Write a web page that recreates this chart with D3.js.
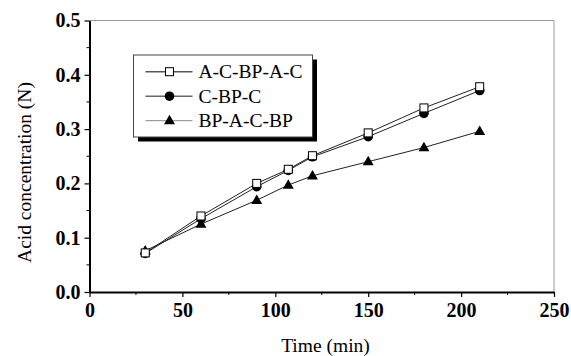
<!DOCTYPE html>
<html>
<head>
<meta charset="utf-8">
<script src="https://cdn.jsdelivr.net/npm/d3@7"></script>
<style>
  body { margin: 0; background: #fff; }
  svg { display: block; font-family: "Liberation Serif", "DejaVu Serif", serif; }
</style>
</head>
<body>
<div id="chart"></div>
<script>
// data
var times = [30, 60, 90, 107, 120, 150, 180, 210];
var acbpac = [0.072, 0.140, 0.200, 0.226, 0.251, 0.293, 0.339, 0.378];
var cbpc   = [0.071, 0.135, 0.194, 0.224, 0.249, 0.286, 0.329, 0.371];
var bpacbp = [0.076, 0.125, 0.169, 0.197, 0.214, 0.240, 0.266, 0.296];
var seriesNames = ["A-C-BP-A-C", "C-BP-C", "BP-A-C-BP"];
var xTicks = [0, 50, 100, 150, 200, 250];
var yTicks = [0.0, 0.1, 0.2, 0.3, 0.4, 0.5];

var W = 571, H = 356;
var margin = {top: 20.5, right: 17, bottom: 64, left: 89.5};
var width = W - margin.left - margin.right,
    height = H - margin.top - margin.bottom;

var svg = d3.select("#chart").append("svg")
    .attr("width", W).attr("height", H)
  .append("g")
    .attr("transform", "translate(" + margin.left + "," + margin.top + ")");

var x = d3.scaleLinear().domain([0, 250]).range([0, width]);
var y = d3.scaleLinear().domain([0, 0.5]).range([height, 0]);

// frame: top and right in gray
svg.append("line").attr("x1", 0).attr("x2", width).attr("y1", 0).attr("y2", 0)
    .attr("stroke", "#999").attr("stroke-width", 1);
svg.append("line").attr("x1", width).attr("x2", width).attr("y1", 0).attr("y2", height)
    .attr("stroke", "#999").attr("stroke-width", 1);

// minor ticks
var xMinor = d3.range(25, 250, 50);
var yMinor = d3.range(0.05, 0.5, 0.1);
svg.selectAll(".xminor").data(xMinor).enter().append("line")
    .attr("x1", function(d) { return x(d); }).attr("x2", function(d) { return x(d); })
    .attr("y1", height).attr("y2", height + 3)
    .attr("stroke", "#000").attr("stroke-width", 1);
svg.selectAll(".yminor").data(yMinor).enter().append("line")
    .attr("y1", function(d) { return y(d); }).attr("y2", function(d) { return y(d); })
    .attr("x1", 0).attr("x2", -3)
    .attr("stroke", "#000").attr("stroke-width", 1);

// axes
var xAxis = svg.append("g")
    .attr("transform", "translate(0," + height + ")")
    .call(d3.axisBottom(x).tickValues(xTicks).tickSize(5).tickSizeOuter(0).tickPadding(6));
var yAxis = svg.append("g")
    .call(d3.axisLeft(y).tickValues(yTicks).tickSize(5).tickSizeOuter(0).tickPadding(4)
      .tickFormat(d3.format(".1f")));

[xAxis, yAxis].forEach(function(a) {
  a.select(".domain").attr("stroke", "#000").attr("stroke-width", 2);
  a.selectAll(".tick line").attr("stroke", "#000").attr("stroke-width", 1.2);
  a.selectAll(".tick text")
    .style("font-family", "Liberation Serif, serif")
    .style("font-size", "20px").style("font-weight", "bold").attr("fill", "#000");
});

// axis titles
svg.append("text")
    .attr("x", x(127)).attr("y", height + 60)
    .attr("text-anchor", "middle")
    .style("font-size", "19.5px")
    .text("Time (min)");
svg.append("text")
    .attr("transform", "translate(" + (-58.5) + "," + 152 + ") rotate(-90)")
    .attr("text-anchor", "middle")
    .style("font-size", "19.5px")
    .text("Acid concentration (N)");

// series
var series = [
  {name: seriesNames[0], values: acbpac, marker: "square"},
  {name: seriesNames[1], values: cbpc, marker: "circle"},
  {name: seriesNames[2], values: bpacbp, marker: "triangle"}
];

var line = d3.line()
    .x(function(d) { return x(d[0]); })
    .y(function(d) { return y(d[1]); });

function drawMarker(g, type, cx, cy) {
  if (type == "square") {
    g.append("rect").attr("x", cx - 4).attr("y", cy - 4).attr("width", 8).attr("height", 8)
      .attr("fill", "#fff").attr("stroke", "#000").attr("stroke-width", 1);
  } else if (type == "circle") {
    g.append("circle").attr("cx", cx).attr("cy", cy).attr("r", 4.8).attr("fill", "#000");
  } else {
    g.append("path")
      .attr("d", d3.symbol().type(d3.symbolTriangle).size(52)())
      .attr("transform", "translate(" + cx + "," + (cy + 0.5) + ")")
      .attr("fill", "#000");
  }
}

series.forEach(function(s) {
  var pts = times.map(function(t, i) { return [t, s.values[i]]; });
  svg.append("path").datum(pts)
    .attr("d", line).attr("fill", "none")
    .attr("stroke", "#222").attr("stroke-width", 1);
});
// markers drawn bottom series first so squares sit on top
[series[2], series[1], series[0]].forEach(function(s) {
  var g = svg.append("g");
  times.forEach(function(t, i) { drawMarker(g, s.marker, x(t), y(s.values[i])); });
});

// legend
var lg = svg.append("g").attr("transform", "translate(" + (133.5 - margin.left) + "," + (55 - margin.top) + ")");
var lw = 179, lh = 82;
lg.append("rect").attr("x", 4.5).attr("y", 4.5).attr("width", lw).attr("height", lh).attr("fill", "#000");
lg.append("rect").attr("x", 0).attr("y", 0).attr("width", lw).attr("height", lh)
    .attr("fill", "#fff").attr("stroke", "#444").attr("stroke-width", 1);
var lineStyles = [{c: "#555", w: 1.6}, {c: "#666", w: 1.6}, {c: "#888", w: 1}];
series.forEach(function(s, i) {
  var ry = 16.7 + i * 24.5;
  lg.append("line").attr("x1", 12).attr("x2", 59).attr("y1", ry).attr("y2", ry)
    .attr("stroke", lineStyles[i].c).attr("stroke-width", lineStyles[i].w);
  drawMarker(lg, s.marker, 36, ry);
  lg.append("text").attr("x", 65).attr("y", ry + 6.5)
    .style("font-size", "19.5px").text(s.name);
});
</script>
</body>
</html>
